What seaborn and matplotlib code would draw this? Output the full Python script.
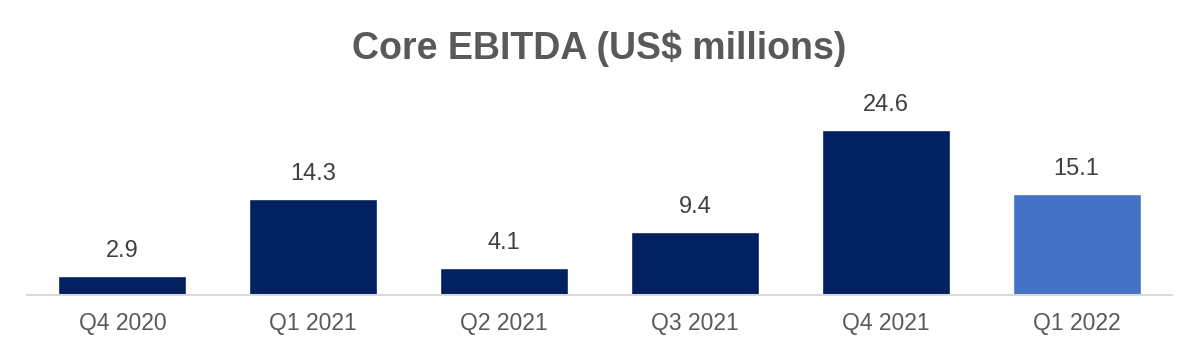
import seaborn as sns
import matplotlib.pyplot as plt
import pandas as pd

quarters = ["Q4 2020", "Q1 2021", "Q2 2021", "Q3 2021", "Q4 2021", "Q1 2022"]
ebitda = [2.9, 14.3, 4.1, 9.4, 24.6, 15.1]
bar_colors = ["#002060", "#002060", "#002060", "#002060", "#002060", "#4472C4"]

df = pd.DataFrame({"quarter": quarters, "ebitda": ebitda})

sns.set_style("white")
plt.rcParams["font.family"] = ["Liberation Sans", "DejaVu Sans"]

fig = plt.figure(figsize=(11.98, 3.51), dpi=100)
ax = fig.add_axes([27 / 1198, 56 / 351, 1145 / 1198, 195 / 351])

sns.barplot(data=df, x="quarter", y="ebitda", hue="quarter", palette=bar_colors,
            width=0.67, legend=False, saturation=1, ax=ax)

for p, v in zip(ax.patches, ebitda):
    ax.annotate(f"{v:.1f}", (p.get_x() + p.get_width() / 2, p.get_height()),
                xytext=(0, 10), textcoords="offset points", ha="center", va="bottom",
                fontsize=17, color="#404040")

ax.set_ylim(0, 29.1)
ax.set_xlim(-0.5, 5.5)
ax.set_xlabel("")
ax.set_ylabel("")
ax.set_yticks([])
for s in ["top", "right", "left"]:
    ax.spines[s].set_visible(False)
ax.spines["bottom"].set_color("#D9D9D9")
ax.spines["bottom"].set_linewidth(1.5)
ax.tick_params(axis="x", length=0, pad=12, labelsize=16.5, labelcolor="#595959")

fig.suptitle("Core EBITDA (US$ millions)", y=0.915, fontsize=27, fontweight="bold",
             color="#595959")

fig.savefig("out.png", dpi=100)
